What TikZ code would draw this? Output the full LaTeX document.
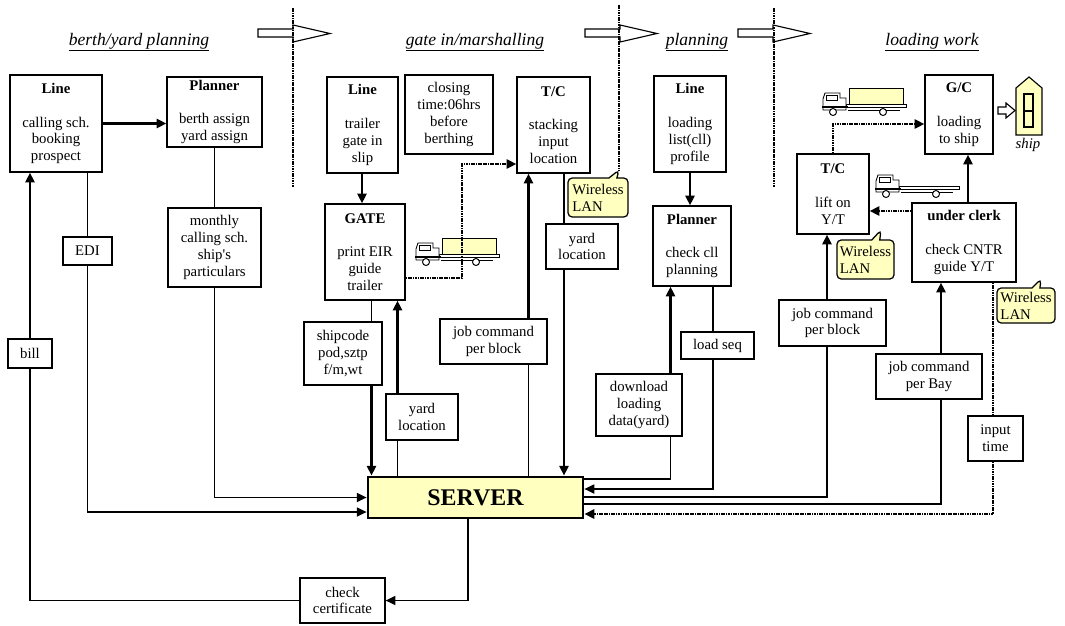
\documentclass[tikz,border=0pt]{standalone}
\usepackage{fontspec}
\setmainfont{Liberation Serif}
\usetikzlibrary{arrows.meta,calc,shapes.callouts}
\definecolor{paleyellow}{HTML}{FFFFC0}
\newlength{\unitpx}
\setlength{\unitpx}{0.025cm}

\begin{document}
\begin{tikzpicture}[x=0.025cm,y=-0.025cm,
    box/.style={draw,line width=0.9pt,fill=white,align=center,inner sep=0pt,font=\fontsize{10.5}{12}\selectfont},
    server/.style={draw,line width=2pt,fill=paleyellow,inner sep=0pt,font=\fontsize{17}{19}\selectfont\bfseries},
    wlan/.style={rectangle callout,draw,line width=0.9pt,fill=paleyellow,rounded corners=3pt,align=left,inner sep=0pt,font=\fontsize{10.5}{12}\selectfont,callout pointer width=8\unitpx},
    title/.style={anchor=base,font=\fontsize{12.5}{14}\selectfont\itshape},
    conn/.style={line width=0.8pt},
    heavy/.style={line width=1.8pt,-{Triangle[length=7pt,width=6.5pt]}},
    arrowconn/.style={line width=0.9pt,-{Triangle[length=7pt,width=6.5pt]}},
    dotconn/.style={line width=1.6pt,dash pattern=on 1.2pt off 0.5pt},
    dotarrow/.style={dotconn,-{Triangle[length=7pt,width=6.5pt]}},
    divider/.style={line width=1.6pt,dash pattern=on 1.2pt off 0.5pt},
    blockarrow/.style={draw,line width=0.8pt,fill=white},
    truck/.pic={
        \draw[fill=white,line width=0.5pt] (24,17) rectangle (84,20);
        \draw[line width=0.6pt] (26,23) -- (78,23);
        \draw[fill=white,line width=0.6pt] (1,23) -- (1,12) -- (3,6) -- (18,6) -- (18,11) -- (24,11) -- (24,23) -- cycle;
        \draw[line width=0.5pt] (4,8) rectangle (15,13);
        \draw[line width=0.8pt] (0,20) -- (26,20);
        \draw[fill=white,line width=0.7pt] (11,25) circle[radius=3.5] (61,25) circle[radius=3.5];
    },
    loaded truck/.pic={
        \draw[fill=paleyellow,line width=0.6pt] (27,1) rectangle (81,17);
        \pic {truck};
    }]
    \path[use as bounding box] (0,0) rectangle (1065,625);

    % connector columns
    \coordinate (cchk) at (468,0);
    \coordinate (cgate) at (362,0);
    \coordinate (cbend) at (462,164);
    \coordinate (ctc) at (564,0);
    \coordinate (cjob) at (528.5,0);
    \coordinate (cship) at (371.5,0);
    \coordinate (cyard) at (397.5,0);
    \coordinate (cdown) at (670.5,0);
    \coordinate (cseq) at (713,0);
    \coordinate (cjobb) at (827,0);
    \coordinate (cbay) at (941,0);
    \coordinate (cgc) at (968,0);
    \coordinate (cin) at (993,0);
    \coordinate (tipA) at (619,170);
    \coordinate (tipB) at (881,230);
    \coordinate (tipC) at (1041,279);

    % phase titles and arrows
    \node[title] (ttlBerth) at (139,45) {\underline{berth/yard planning}};
    \node[title] (ttlGate) at (475,45) {\underline{gate in/marshalling}};
    \node[title] (ttlPlan) at (697,45) {\underline{planning}};
    \node[title] (ttlLoad) at (932,45) {\underline{loading work}};
    \foreach \bx in {258,585,738} {
        \draw[blockarrow] (\bx,29) -- ++(35,0) -- ++(0,-4) -- ++(37,8.5) -- ++(-37,8.5) -- ++(0,-5) -- ++(-35,0) -- cycle;
    }
    \draw[divider] (293,8) -- (293,187);
    \draw[divider] (774,8) -- (774,187);
    \draw[divider] (619,5) -- (tipA);

    % trucks and ship
    \pic at (415,237) {loaded truck};
    \pic at (822,87) {loaded truck};
    \pic at (875,169) {truck};
    \draw[line width=0.8pt,fill=paleyellow] (1016,135) -- (1016,88) -- (1029,77) -- (1042,88) -- (1042,135) -- cycle;
    \draw[line width=0.8pt] (1024,94) rectangle (1033,127) (1024,111) -- (1033,111);
    \draw[blockarrow] (998,107) -- (1006,107) -- (1006,103) -- (1015,110.5) -- (1006,118) -- (1006,114) -- (998,114) -- cycle;
    \node[font=\fontsize{10.5}{12}\selectfont\itshape] (shiplbl) at (1028,145) {ship};

    % berth/yard planning
    \node[box,minimum width=92\unitpx,minimum height=97\unitpx] (lineA) at (56,123.5) {\textbf{Line}\\[12pt]calling sch.\\booking\\prospect};
    \node[box,minimum width=95\unitpx,minimum height=70\unitpx] (plannerA) at (214.5,112) {\textbf{Planner}\\[12pt]berth assign\\yard assign};
    \node[box,minimum width=93\unitpx,minimum height=79\unitpx] (monthly) at (214.5,247.5) {monthly\\calling sch.\\ship\textquotesingle s\\particulars};
    \node[box,minimum width=49\unitpx,minimum height=28\unitpx] (edi) at (87.5,251) {EDI};
    \node[box,minimum width=44\unitpx,minimum height=29\unitpx] (bill) at (30,353.5) {bill};
    \node[box,minimum width=85\unitpx,minimum height=45\unitpx] (check) at (342.5,600.5) {check\\certificate};
    \node[server,minimum width=215\unitpx,minimum height=41\unitpx] (server) at (475.5,497.5) {SERVER};

    % gate in/marshalling
    \node[box,minimum width=71\unitpx,minimum height=96\unitpx] (lineB) at (362.5,125) {\textbf{Line}\\[12pt]trailer\\gate in\\slip};
    \node[box,minimum width=88\unitpx,minimum height=79\unitpx] (closing) at (449,114.5) {closing\\time:06hrs\\before\\berthing};
    \node[box,minimum width=73\unitpx,minimum height=96\unitpx] (tcA) at (553.5,125) {\textbf{T/C}\\[12pt]stacking\\input\\location};
    \node[box,minimum width=80\unitpx,minimum height=96\unitpx] (gate) at (365,252) {\textbf{GATE}\\[12pt]print EIR\\guide\\trailer};
    \node[box,minimum width=72\unitpx,minimum height=45\unitpx] (yardA) at (582,246.5) {yard\\location};
    \node[box,minimum width=78\unitpx,minimum height=63\unitpx] (shipcode) at (343,353.5) {shipcode\\pod,sztp\\f/m,wt};
    \node[box,minimum width=72\unitpx,minimum height=46\unitpx] (yardB) at (422,417) {yard\\location};
    \node[box,minimum width=107\unitpx,minimum height=45\unitpx] (jobA) at (493.5,341.5) {job command\\per block};
    \node[wlan,minimum width=60\unitpx,minimum height=39\unitpx,callout absolute pointer={(tipA)}] (wlanA) at (598,197.5) {Wireless\\LAN};

    % planning
    \node[box,minimum width=72\unitpx,minimum height=96\unitpx] (lineC) at (690,124) {\textbf{Line}\\[12pt]loading\\list(cll)\\profile};
    \node[box,minimum width=78\unitpx,minimum height=80\unitpx] (plannerB) at (692,246) {\textbf{Planner}\\[12pt]check cll\\planning};
    \node[box,minimum width=86\unitpx,minimum height=62\unitpx] (download) at (639,405) {download\\loading\\data(yard)};
    \node[box,minimum width=73\unitpx,minimum height=27\unitpx] (loadseq) at (717.5,345.5) {load seq};

    % loading work
    \node[box,minimum width=72\unitpx,minimum height=80\unitpx] (tcB) at (833,194) {\textbf{T/C}\\[12pt]lift on\\Y/T};
    \node[box,minimum width=68\unitpx,minimum height=79\unitpx] (gc) at (959,114.5) {\textbf{G/C}\\[12pt]loading\\to ship};
    \node[box,minimum width=104\unitpx,minimum height=79\unitpx] (clerk) at (964,242.5) {\textbf{under clerk}\\[12pt]check CNTR\\guide Y/T};
    \node[box,minimum width=107\unitpx,minimum height=46\unitpx] (jobB) at (832.5,323) {job command\\per block};
    \node[box,minimum width=106\unitpx,minimum height=45\unitpx] (jobbay) at (929,376.5) {job command\\per Bay};
    \node[box,minimum width=55\unitpx,minimum height=45\unitpx] (input) at (995.5,438.5) {input\\time};
    \node[wlan,minimum width=57\unitpx,minimum height=39\unitpx,callout absolute pointer={(tipB)}] (wlanB) at (865.5,259.5) {Wireless\\LAN};
    \node[wlan,minimum width=58\unitpx,minimum height=35\unitpx,callout absolute pointer={(tipC)}] (wlanC) at (1026,305.5) {Wireless\\LAN};
    \coordinate (cclerk) at ($(clerk.west)+(0,-31.5)$);

    % connectors: berth/yard planning
    \draw[heavy] (lineA.east) -- (lineA.east -| plannerA.west);
    \draw[conn] (plannerA) -- (monthly);
    \draw[arrowconn] (monthly.south) |- (server.west);
    \draw[conn] (edi.north) -- (edi.north |- lineA.south);
    \draw[arrowconn] (edi.south) |- ($(server.west)+(0,14.5)$);
    \draw[heavy] (bill.north) -- (bill.north |- lineA.south);
    \draw[conn] (bill.south) |- (check.west);
    \draw[arrowconn] (cchk |- server.south) |- (check.east);

    % connectors: gate in/marshalling
    \draw[heavy] (cgate |- lineB.south) -- (cgate |- gate.north);
    \draw[dotarrow] ($(gate.east)+(0,26)$) -| (cbend) -- (cbend -| tcA.west);
    \draw[conn] (ctc |- tcA.south) -- (ctc |- yardA.north);
    \draw[heavy] (ctc |- yardA.south) -- (ctc |- server.north);
    \draw[heavy] (cjob |- jobA.north) -- (cjob |- tcA.south);
    \draw[conn] (cjob |- jobA.south) -- (cjob |- server.north);
    \draw[conn] (cship |- gate.south) -- (cship |- shipcode.north);
    \draw[heavy] (cship |- shipcode.south) -- (cship |- server.north);
    \draw[heavy] (cyard |- yardB.north) -- (cyard |- gate.south);
    \draw[conn] (cyard |- yardB.south) -- (cyard |- server.north);

    % connectors: planning
    \draw[heavy] (lineC.south) -- (lineC.south |- plannerB.north);
    \draw[heavy] (cdown |- download.north) -- (cdown |- plannerB.south);
    \draw[conn] (cdown |- download.south) |- ($(server.east)+(0,-18.5)$);
    \draw[conn] (cseq |- plannerB.south) -- (cseq |- loadseq.north);
    \draw[arrowconn] (cseq |- loadseq.south) |- ($(server.east)+(0,-8.5)$);

    % connectors: loading work
    \draw[heavy] (cjobb |- jobB.north) -- (cjobb |- tcB.south);
    \draw[conn] (cjobb |- jobB.south) |- ($(server.east)+(0,-0.5)$);
    \draw[heavy] (cbay |- jobbay.north) -- (cbay |- clerk.south);
    \draw[conn] (cbay |- jobbay.south) |- ($(server.east)+(0,6.5)$);
    \draw[heavy] (cgc |- clerk.north) -- (cgc |- gc.south);
    \draw[dotarrow] (tcB.north) |- ($(gc.west)+(0,9.5)$);
    \draw[dotarrow] (cclerk) -- (cclerk -| tcB.east);
    \draw[dotconn] (cin |- clerk.south) -- (cin |- input.north);
    \draw[dotarrow] (cin |- input.south) |- ($(server.east)+(0,16.5)$);
\end{tikzpicture}
\end{document}
